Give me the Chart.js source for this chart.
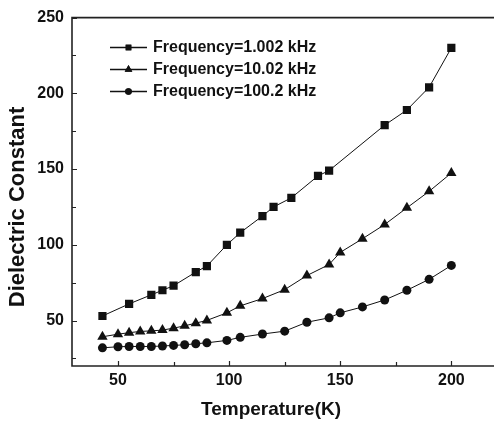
<!DOCTYPE html>
<html>
<head>
<meta charset="utf-8">
<script src="https://cdn.jsdelivr.net/npm/chart.js@4/dist/chart.umd.min.js"></script>
<style>
  html, body { margin: 0; padding: 0; background: #fff; }
  canvas { display: block; }
</style>
</head>
<body>
<canvas id="c" width="498" height="422"></canvas>
<script>
// ---- data ----
const seriesLabels = ["Frequency=1.002 kHz", "Frequency=10.02 kHz", "Frequency=100.2 kHz"];
const xTitle = "Temperature(K)";
const yTitle = "Dielectric Constant";

const tempSquares = [43, 55, 65, 70, 75, 85, 90, 99, 105, 115, 120, 128, 140, 145, 170, 180, 190, 200];
const dielSquares = [53, 61, 67, 70, 73, 82, 86, 100, 108, 119, 125, 131, 145.5, 149, 179, 189, 204, 230];

const tempTriangles = [43, 50, 55, 60, 65, 70, 75, 80, 85, 90, 99, 105, 115, 125, 135, 145, 150, 160, 170, 180, 190, 200];
const dielTriangles = [39.3, 41, 42, 42.8, 43.2, 43.7, 45, 46.5, 48.3, 50.1, 55.1, 59.7, 64.5, 70.4, 79.7, 87, 95, 104, 113.4, 124.4, 135.3, 147.4];

const tempCircles = [43, 50, 55, 60, 65, 70, 75, 80, 85, 90, 99, 105, 115, 125, 135, 145, 150, 160, 170, 180, 190, 200];
const dielCircles = [32, 32.7, 32.9, 32.9, 32.9, 33.2, 33.6, 34, 34.7, 35.3, 36.9, 38.9, 41.1, 43, 48.9, 51.8, 55.1, 59, 63.6, 70, 77.2, 86.4];

const xTickValues = [50, 75, 100, 125, 150, 175, 200];
const xMajorTicks = [50, 100, 150, 200];
const yTickValues = [25, 50, 75, 100, 125, 150, 175, 200, 225, 250];
const yMajorTicks = [50, 100, 150, 200, 250];

// ---- styling ----
const FONT = "'Liberation Sans', Arial, sans-serif";
const INK = "#111";
const toPts = (xs, ys) => xs.map((x, i) => ({ x: x, y: ys[i] }));

const markerStyles = ["rect", "triangle", "circle"];
const markerRadius = [5.8, 6, 4.5];
const legendRadius = [4, 4.4, 3.3];

const datasets = [
  toPts(tempSquares, dielSquares),
  toPts(tempTriangles, dielTriangles),
  toPts(tempCircles, dielCircles)
].map((d, i) => ({
  label: seriesLabels[i],
  data: d,
  borderColor: INK,
  backgroundColor: INK,
  borderWidth: 1,
  pointStyle: markerStyles[i],
  pointRadius: markerRadius[i],
  pointBorderWidth: 0,
  pointBackgroundColor: INK,
  tension: 0
}));

const framePlugin = {
  id: "frameAndLegend",
  afterDraw(chart) {
    const ctx = chart.ctx;
    const a = chart.chartArea;
    const xs = chart.scales.x, ys = chart.scales.y;
    ctx.save();
    // frame (left, bottom, top)
    ctx.strokeStyle = "#222";
    ctx.lineWidth = 1.6;
    ctx.beginPath();
    ctx.moveTo(a.right + 2, a.top);
    ctx.lineTo(a.left, a.top);
    ctx.lineTo(a.left, a.bottom);
    ctx.lineTo(a.right + 2, a.bottom);
    ctx.stroke();
    // inward ticks
    ctx.lineWidth = 1.2;
    ctx.beginPath();
    xs.ticks.forEach(t => {
      const px = Math.round(xs.getPixelForValue(t.value)) + 0.5;
      const len = xMajorTicks.includes(t.value) ? 5 : 4;
      ctx.moveTo(px, a.bottom);
      ctx.lineTo(px, a.bottom - len);
    });
    ys.ticks.forEach(t => {
      const py = Math.round(ys.getPixelForValue(t.value)) + 0.5;
      const len = yMajorTicks.includes(t.value) ? 5 : 4;
      ctx.moveTo(a.left, py);
      ctx.lineTo(a.left + len, py);
    });
    ctx.stroke();

    // axis titles
    ctx.fillStyle = INK;
    ctx.textAlign = "center";
    ctx.textBaseline = "middle";
    ctx.font = "bold 19px " + FONT;
    ctx.fillText(xTitle, 271, 410);
    ctx.save();
    ctx.translate(18, 207);
    ctx.rotate(-Math.PI / 2);
    ctx.font = "bold 22px " + FONT;
    ctx.fillText(yTitle, 0, 0);
    ctx.restore();

    // legend: line - marker - line, then text
    const rowsY = [47, 69, 91];
    ctx.font = "bold 16px " + FONT;
    ctx.textAlign = "left";
    chart.data.datasets.forEach((ds, i) => {
      const y = rowsY[i];
      ctx.strokeStyle = INK;
      ctx.lineWidth = 1.3;
      ctx.beginPath();
      ctx.moveTo(110, y + 0.5);
      ctx.lineTo(147, y + 0.5);
      ctx.stroke();
      Chart.helpers.drawPoint(ctx, {
        pointStyle: ds.pointStyle,
        radius: legendRadius[i],
        rotation: 0,
        borderWidth: 0
      }, 128.5, y + 0.5);
      ctx.fillStyle = INK;
      ctx.fill();
      ctx.fillText(ds.label, 153, y + 1);
    });
    ctx.restore();
  }
};

new Chart(document.getElementById("c"), {
  type: "line",
  data: { datasets: datasets },
  options: {
    responsive: false,
    devicePixelRatio: 1,
    animation: false,
    layout: { padding: { top: 16, right: 0, left: 0, bottom: 0 } },
    plugins: { legend: { display: false }, tooltip: { enabled: false } },
    scales: {
      x: {
        type: "linear",
        min: 29.3,
        max: 218.3,
        grid: { display: false, drawTicks: false },
        border: { display: false },
        afterBuildTicks: s => { s.ticks = xTickValues.map(v => ({ value: v })); },
        ticks: {
          autoSkip: false,
          maxRotation: 0,
          padding: 5,
          color: INK,
          font: { family: FONT, size: 16, weight: "bold" },
          callback: v => xMajorTicks.includes(v) ? String(v) : ""
        },
        afterFit: s => { s.height = 56; }
      },
      y: {
        min: 20,
        max: 250,
        grid: { display: false, drawTicks: false },
        border: { display: false },
        afterBuildTicks: s => { s.ticks = yTickValues.map(v => ({ value: v })); },
        ticks: {
          autoSkip: false,
          padding: 8,
          color: INK,
          font: { family: FONT, size: 16, weight: "bold" },
          callback: v => yMajorTicks.includes(v) ? String(v) : ""
        },
        afterFit: s => { s.width = 72; }
      }
    }
  },
  plugins: [framePlugin]
});
</script>
</body>
</html>
